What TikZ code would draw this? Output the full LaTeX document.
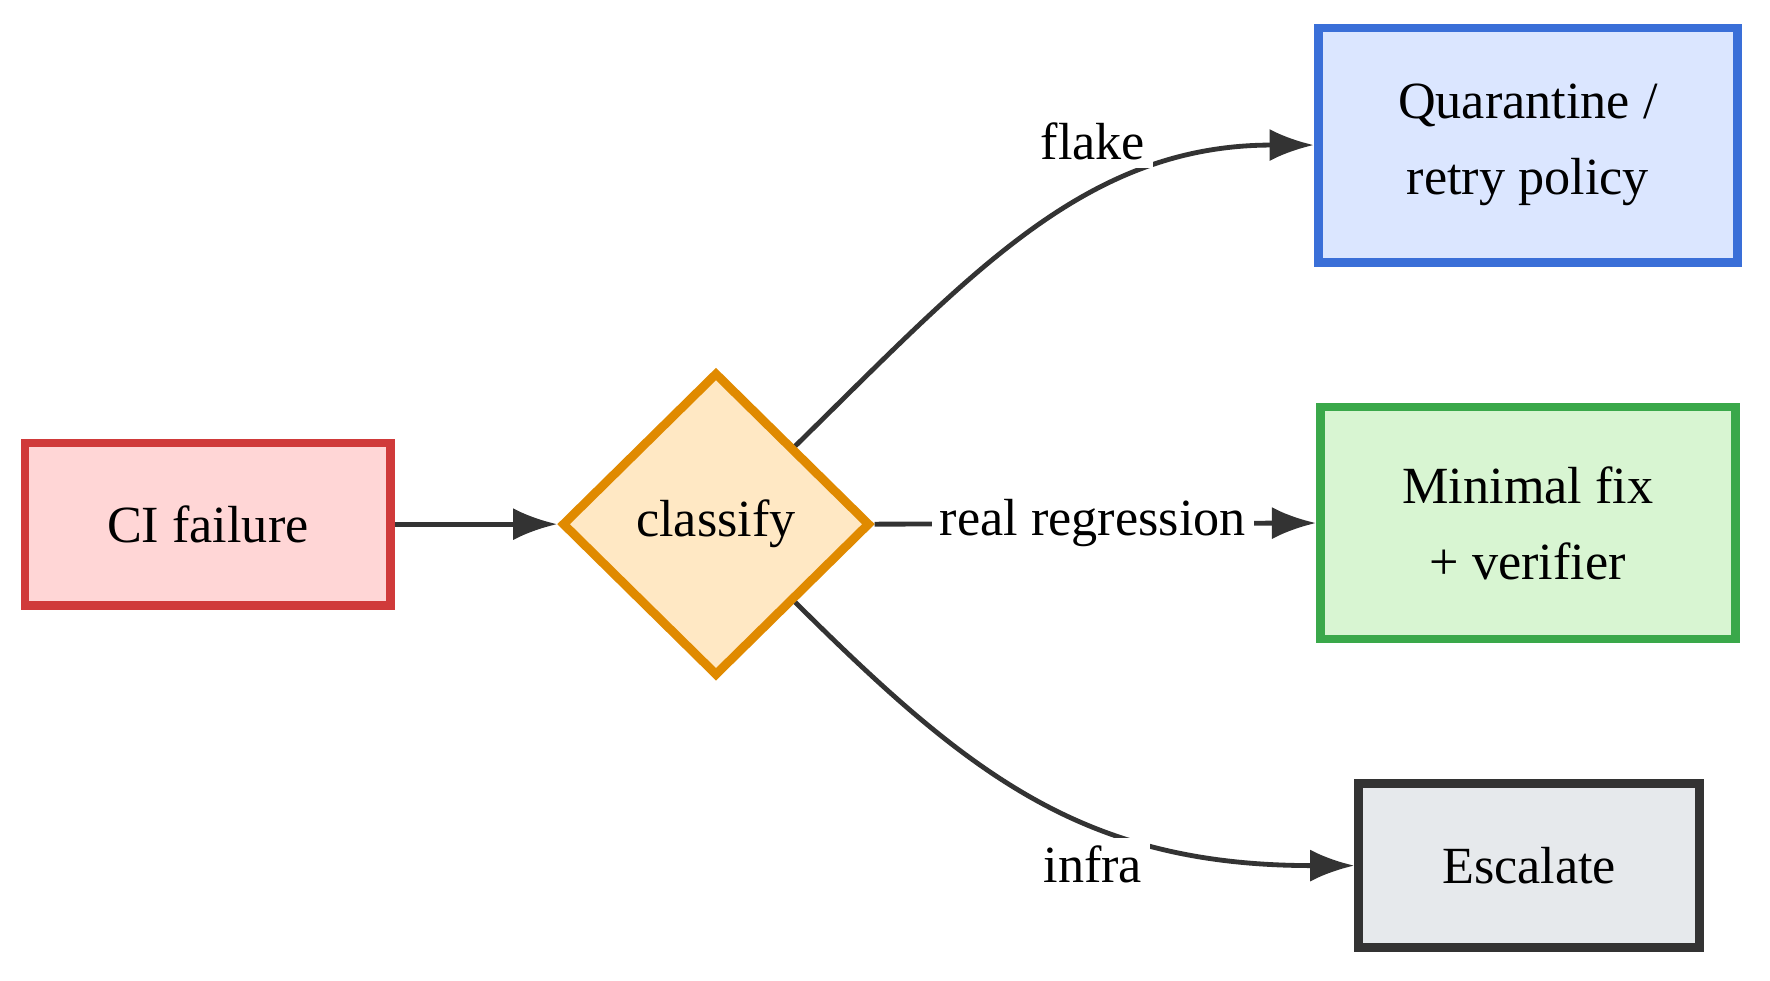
\documentclass[tikz,border=0pt]{standalone}
\usepackage{fontspec}
\setmainfont{Liberation Serif}
\usetikzlibrary{arrows.meta,shapes.geometric}

\definecolor{redline}{HTML}{D03A3A}
\definecolor{redfill}{HTML}{FFD6D6}
\definecolor{orline}{HTML}{E08A00}
\definecolor{orfill}{HTML}{FFE8C4}
\definecolor{blline}{HTML}{3A6FD8}
\definecolor{blfill}{HTML}{DBE6FF}
\definecolor{grline}{HTML}{3AA84A}
\definecolor{grfill}{HTML}{D8F5D2}
\definecolor{gyline}{HTML}{333333}
\definecolor{gyfill}{HTML}{E6E9EC}

\tikzset{
  box/.style={draw, line width=2.2pt, align=center, inner sep=0pt},
  flow/.style={draw=gyline, line width=1.2pt, -{Latex[length=11pt,width=8pt]}},
  lbl/.style={fill=white, inner sep=2pt}
}

\begin{document}
\begin{tikzpicture}[x=0.01cm, y=-0.01cm, font=\fontsize{13}{19}\selectfont]

\useasboundingbox (0,0) rectangle (1550,859);

\node [box, draw=redline, fill=redfill, minimum width=3.2cm, minimum height=1.42cm] (ci) at (182,459) {CI failure};
\node [box, diamond, draw=orline, fill=orfill, minimum width=2.7cm, minimum height=2.66cm] (cls) at (627,459) {classify};
\node [box, draw=blline, fill=blfill, minimum width=3.67cm, minimum height=2.05cm] (quar) at (1338,127) {Quarantine /\\retry policy};
\node [box, draw=grline, fill=grfill, minimum width=3.63cm, minimum height=2.03cm] (fix) at (1338,458) {Minimal fix\\+ verifier};
\node [box, draw=gyline, fill=gyfill, minimum width=2.98cm, minimum height=1.43cm] (esc) at (1339,758) {Escalate};

\draw [flow] (ci) -- (cls);
\draw [flow] (cls.north east) .. controls (850,240) and (950,127) .. (quar.west);
\draw [flow] (cls.east) -- (fix.west);
\draw [flow] (cls.south east) .. controls (850,680) and (950,758) .. (esc.west);

\node [lbl] at (957,124) {flake};
\node [lbl] at (957,458) {real regression};
\node [lbl] at (957,757) {infra};

\end{tikzpicture}
\end{document}
